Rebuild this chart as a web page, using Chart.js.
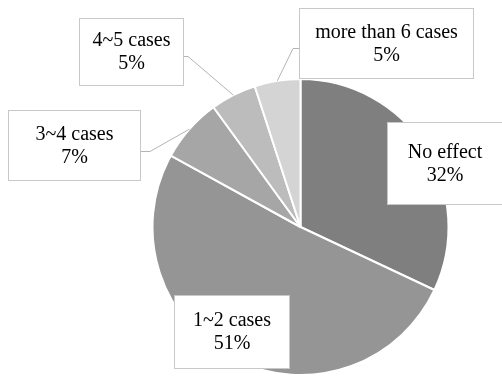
<!DOCTYPE html>
<html>
<head>
<meta charset="utf-8">
<script src="https://cdn.jsdelivr.net/npm/chart.js@4"></script>
<style>
    html, body { margin: 0; padding: 0; background: #fff; }
    #wrap { width: 502px; height: 376px; position: relative; }
</style>
</head>
<body>
<div id="wrap"><canvas id="grafico_pizza"></canvas></div>
<script>
const categorias = ['No effect', '1~2 cases', '3~4 cases', '4~5 cases', 'more than 6 cases'];
const percentuais = [32, 51, 7, 5, 5];
const cores = ['#7f7f7f', '#959595', '#a6a6a6', '#bcbcbc', '#d4d4d4'];

// caixas dos rótulos (x, y, largura, altura) e ponto de dobra da linha guia
const caixas = [
    { x: 387, y: 122, w: 118, h: 83, guia: null },
    { x: 174, y: 295, w: 116, h: 74, guia: null },
    { x: 8, y: 110, w: 133, h: 71, guia: { lado: 'direita', y: 151, dobra: 150 } },
    { x: 79, y: 18, w: 105, h: 68, guia: { lado: 'direita', y: 56, dobra: 188 } },
    { x: 299, y: 8, w: 175, h: 71, guia: { lado: 'esquerda', y: 48, dobra: 293 } }
];

const rotulosPlugin = {
    id: 'rotulosCaixa',
    afterDatasetsDraw(chart) {
        const ctx = chart.ctx;
        const meta = chart.getDatasetMeta(0);
        ctx.save();
        meta.data.forEach((arco, i) => {
            const c = caixas[i];
            const p = arco.getProps(['x', 'y', 'startAngle', 'endAngle', 'outerRadius']);
            const meio = (p.startAngle + p.endAngle) / 2;

            if (c.guia) {
                const px = p.x + Math.cos(meio) * p.outerRadius;
                const py = p.y + Math.sin(meio) * p.outerRadius;
                const bx = c.guia.lado === 'direita' ? c.x + c.w : c.x;
                ctx.beginPath();
                ctx.strokeStyle = '#b4b4b4';
                ctx.lineWidth = 1;
                ctx.moveTo(bx, c.guia.y + 0.5);
                ctx.lineTo(c.guia.dobra, c.guia.y + 0.5);
                ctx.lineTo(px, py);
                ctx.stroke();
            }

            ctx.fillStyle = '#ffffff';
            ctx.fillRect(c.x, c.y, c.w, c.h);
            ctx.strokeStyle = '#c8c8c8';
            ctx.lineWidth = 1;
            ctx.strokeRect(c.x + 0.5, c.y + 0.5, c.w - 1, c.h - 1);

            ctx.fillStyle = '#000000';
            ctx.font = '20px "Liberation Serif", "Times New Roman", serif';
            ctx.textAlign = 'center';
            ctx.textBaseline = 'middle';
            const cx = c.x + c.w / 2 - (i === 0 ? 1 : 0);
            const cy = c.y + c.h / 2;
            ctx.fillText(categorias[i], cx, cy - 11);
            ctx.fillText(percentuais[i] + '%', cx, cy + 12);
        });
        ctx.restore();
    }
};

const contexto = document.getElementById('grafico_pizza').getContext('2d');

const grafico = new Chart(contexto, {
    type: 'pie',
    data: {
        labels: categorias,
        datasets: [{
            data: percentuais,
            backgroundColor: cores,
            borderColor: '#ffffff',
            borderWidth: 2
        }]
    },
    options: {
        responsive: true,
        maintainAspectRatio: false,
        animation: false,
        layout: {
            padding: { left: 150, right: 51, top: 78, bottom: -3 }
        },
        plugins: {
            legend: { display: false },
            tooltip: { enabled: false }
        }
    },
    plugins: [rotulosPlugin]
});
</script>
</body>
</html>
